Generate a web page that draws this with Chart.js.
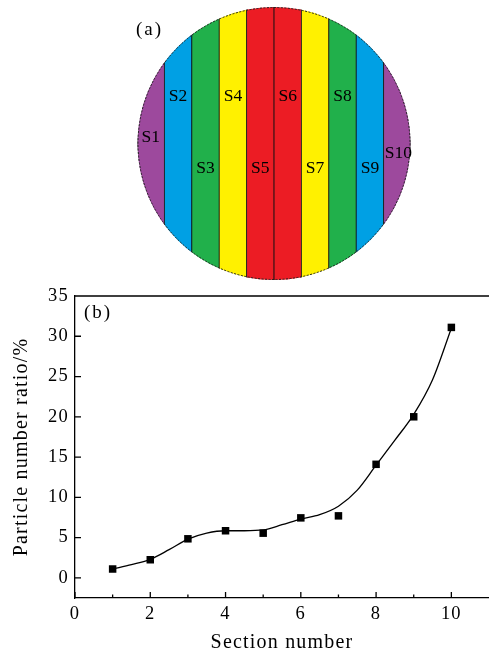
<!DOCTYPE html>
<html>
<head>
<meta charset="utf-8">
<script src="https://cdn.jsdelivr.net/npm/chart.js@4.4.1/dist/chart.umd.min.js"></script>
<style>
  html, body { margin: 0; padding: 0; background: #fff; }
  #wrap { position: relative; width: 489px; height: 655px; overflow: hidden; }
  #sections { position: absolute; left: 0; top: 0; }
  #ratio { position: absolute; left: 0; top: 270px; }
</style>
</head>
<body>
<div id="wrap">
  <canvas id="sections" width="489" height="290"></canvas>
  <canvas id="ratio" width="489" height="385"></canvas>
</div>
<script>
(function () {
  "use strict";

  // (a) wafer split into ten vertical sections
  var sectionLabels = ['S1', 'S2', 'S3', 'S4', 'S5', 'S6', 'S7', 'S8', 'S9', 'S10'];
  var sectionColours = ['#9d499d', '#00a0e4', '#21b04b', '#fff100', '#ec1c24',
                        '#ec1c24', '#fff100', '#21b04b', '#00a0e4', '#9d499d'];
  var sectionSpan = [1, 1, 1, 1, 1, 1, 1, 1, 1, 1]; // every strip runs top to bottom of the disc

  // (b) particle number ratio per section
  var sectionNumber = [1, 2, 3, 4, 5, 6, 7, 8, 9, 10];
  var particleRatio = [1.1, 2.25, 4.85, 5.85, 5.55, 7.45, 7.7, 14.1, 20.0, 31.1];
  // fitted curve
  var fitX = [1, 1.5, 2, 2.5, 3, 3.5, 4, 4.5, 5, 5.5, 6, 6.5, 7, 7.5, 8, 8.5, 9, 9.5, 10];
  var fitY = [1.1, 1.65, 2.3, 3.5, 4.8, 5.55, 5.85, 5.85, 5.95, 6.6, 7.3, 7.85, 8.9, 10.9, 14.0, 17.1, 20.3, 24.6, 31.0];
  var xTicks = [0, 1, 2, 3, 4, 5, 6, 7, 8, 9, 10];
  var yTicks = [0, 5, 10, 15, 20, 25, 30, 35];

  var serif = '"Liberation Serif", "Times New Roman", serif';
  Chart.defaults.font.family = serif;
  Chart.defaults.color = '#000';

  // Clip the strips to a disc, then add the rim and the S labels
  var disc = {
    id: 'disc',
    beforeDatasetsDraw: function (chart) {
      var a = chart.chartArea, ctx = chart.ctx;
      ctx.save();
      ctx.beginPath();
      ctx.arc((a.left + a.right) / 2, (a.top + a.bottom) / 2, Math.min(a.width, a.height) / 2, 0, Math.PI * 2);
      ctx.clip();
    },
    afterDatasetsDraw: function (chart) {
      var a = chart.chartArea, ctx = chart.ctx, xs = chart.scales.x, ys = chart.scales.y;
      var levels = [0.524, 0.674, 0.41, 0.674, 0.41, 0.674, 0.41, 0.674, 0.41, 0.465]; // label heights
      var i;
      ctx.restore();

      ctx.save();
      ctx.beginPath();
      ctx.arc((a.left + a.right) / 2, (a.top + a.bottom) / 2, Math.min(a.width, a.height) / 2 - 0.5, 0, Math.PI * 2);
      ctx.setLineDash([2, 1.5]);
      ctx.lineWidth = 1;
      ctx.strokeStyle = '#222';
      ctx.stroke();
      ctx.restore();

      ctx.save();
      ctx.fillStyle = '#000';
      ctx.font = '17.5px ' + serif;
      ctx.textAlign = 'center';
      ctx.textBaseline = 'middle';
      for (i = 0; i < sectionLabels.length; i += 1) {
        ctx.fillText(sectionLabels[i], xs.getPixelForValue(i) + (i === 9 ? 1 : 0), ys.getPixelForValue(levels[i]));
      }
      ctx.letterSpacing = '2px';
      ctx.font = '19px ' + serif;
      ctx.textAlign = 'left';
      ctx.fillText('(a)', 136, 30);
      ctx.restore();
    }
  };

  new Chart(document.getElementById('sections'), {
    type: 'bar',
    data: {
      labels: sectionLabels,
      datasets: [{
        data: sectionSpan,
        backgroundColor: sectionColours,
        borderColor: '#111',
        borderWidth: { left: 0.8, right: 0.8, top: 0, bottom: 0 },
        borderSkipped: false,
        barPercentage: 1,
        categoryPercentage: 1
      }]
    },
    options: {
      responsive: false,
      animation: false,
      layout: { padding: { left: 137, right: 78, top: 7, bottom: 10 } },
      scales: {
        x: { display: false },
        y: { display: false, min: 0, max: 1 }
      },
      plugins: { legend: { display: false }, tooltip: { enabled: false } }
    },
    plugins: [disc]
  });

  // Top frame line, inward ticks and the panel letter
  var frame = {
    id: 'frame',
    beforeDraw: function (chart) {
      chart.ctx.letterSpacing = '1.2px';
    },
    afterDraw: function (chart) {
      var a = chart.chartArea, ctx = chart.ctx, xs = chart.scales.x, ys = chart.scales.y;
      ctx.save();
      ctx.strokeStyle = '#000';
      ctx.lineWidth = 1.3;
      ctx.beginPath();
      ctx.moveTo(a.left - 0.65, a.top);
      ctx.lineTo(a.right, a.top);
      xs.ticks.forEach(function (t) {
        var px = xs.getPixelForValue(t.value);
        ctx.moveTo(px, a.bottom);
        ctx.lineTo(px, a.bottom - (t.value % 2 === 0 ? 6 : 3.5));
      });
      ys.ticks.forEach(function (t) {
        var py = ys.getPixelForValue(t.value);
        ctx.moveTo(a.left, py);
        ctx.lineTo(a.left + 6, py);
      });
      ctx.stroke();
      ctx.fillStyle = '#000';
      ctx.letterSpacing = '2px';
      ctx.font = '19px ' + serif;
      ctx.textBaseline = 'middle';
      ctx.fillText('(b)', 84, a.top + 17);
      ctx.restore();
    }
  };

  new Chart(document.getElementById('ratio'), {
    type: 'scatter',
    data: {
      datasets: [{
        data: fitX.map(function (x, i) { return { x: x, y: fitY[i] }; }),
        showLine: true,
        borderColor: '#000',
        borderWidth: 1.3,
        pointRadius: 0,
        cubicInterpolationMode: 'monotone',
        order: 2
      }, {
        data: sectionNumber.map(function (x, i) { return { x: x, y: particleRatio[i] }; }),
        pointStyle: 'rect',
        pointRadius: 5.3,
        backgroundColor: '#000',
        borderColor: '#000',
        borderWidth: 0,
        order: 1
      }]
    },
    options: {
      responsive: false,
      animation: false,
      layout: { autoPadding: false, padding: { left: 0, right: 0, top: 26, bottom: 0 } },
      plugins: { legend: { display: false }, tooltip: { enabled: false } },
      scales: {
        x: {
          type: 'linear',
          min: 0,
          max: 11,
          afterBuildTicks: function (s) { s.ticks = xTicks.map(function (v) { return { value: v }; }); },
          afterFit: function (s) { s.height = 57; s.paddingLeft = 0; s.paddingRight = 0; },
          ticks: {
            autoSkip: false,
            maxRotation: 0,
            padding: 5,
            font: { size: 18.5 },
            color: '#000',
            callback: function (v) { return v % 2 === 0 ? v : ''; }
          },
          grid: { display: false, drawTicks: false },
          border: { color: '#000', width: 1.3 },
          title: {
            display: true,
            text: 'Section number',
            color: '#000',
            font: { size: 20, lineHeight: 1.2 },
            padding: { top: 0, bottom: 0 }
          }
        },
        y: {
          min: -2.5,
          max: 35,
          afterBuildTicks: function (s) { s.ticks = yTicks.map(function (v) { return { value: v }; }); },
          afterFit: function (s) { s.width = 75; s.paddingTop = 0; s.paddingBottom = 0; },
          ticks: { padding: 6, font: { size: 18.5 }, color: '#000' },
          grid: { display: false, drawTicks: false },
          border: { color: '#000', width: 1.3 },
          title: {
            display: true,
            text: 'Particle number ratio/%',
            color: '#000',
            font: { size: 20, lineHeight: 1.2 },
            padding: { top: 10, bottom: 0 }
          }
        }
      }
    },
    plugins: [frame]
  });
})();
</script>
</body>
</html>
